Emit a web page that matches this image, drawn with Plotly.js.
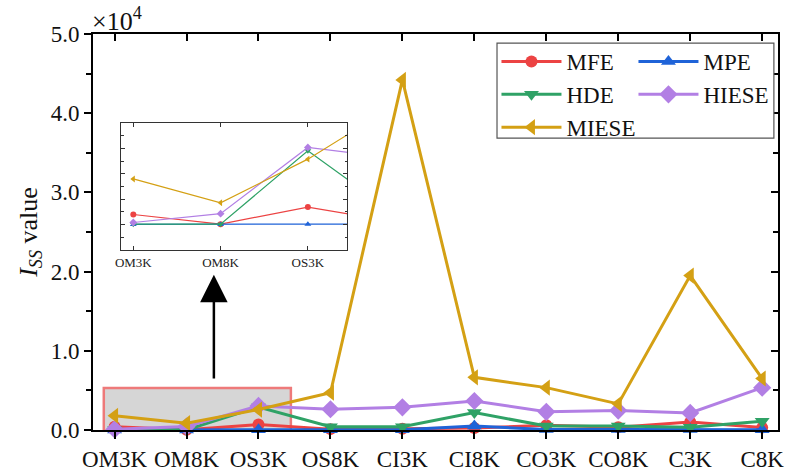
<!DOCTYPE html>
<html>
<head>
<meta charset="utf-8">
<script src="https://cdn.plot.ly/plotly-3.0.1.min.js"></script>
<style>html,body{margin:0;padding:0;background:#fff;}#chart{width:787px;height:471px;}</style>
</head>
<body>
<div id="chart"></div>
<script>
// ---- data ----
var categories = ["OM3K","OM8K","OS3K","OS8K","CI3K","CI8K","CO3K","CO8K","C3K","C8K"];
var seriesNames = ["MFE","MPE","HDE","HIESE","MIESE"];
var MFE   = [400, 20, 690, 110, 150, 250, 600, 350, 1000, 300];
var MPE   = [10, 10, 20, 30, 30, 500, 50, 50, 50, 30];
var HDE   = [20, 20, 2910, 420, 400, 2200, 500, 500, 350, 1100];
var HIESE = [85, 430, 3040, 2620, 2860, 3660, 2300, 2450, 2150, 5350];
var MIESE = [1800, 860, 2580, 4700, 44200, 6650, 5350, 3300, 19500, 6500];
var yTickValues = [0, 10000, 20000, 30000, 40000, 50000];
var insetTickValues = [-1000, 0, 1000, 2000, 3000, 4000];

// ---- styles ----
var seriesValues = [MFE, MPE, HDE, HIESE, MIESE];
var colors  = ["#ec4343", "#1f63d8", "#2fa266", "#b27fe4", "#d4a014"];
var symbols = ["circle", "triangle-up", "triangle-down", "diamond", "triangle-left"];
var msizes  = [12, 13, 13, 14, 14];
var legendOf = ["legend", "legend2", "legend", "legend2", "legend"];
var FONT = "Liberation Serif, Times New Roman, serif";

var traces = [];
seriesNames.forEach(function(name, i){
  traces.push({
    x: categories, y: seriesValues[i], name: name, type: "scatter", mode: "lines+markers",
    line: {color: colors[i], width: 3},
    marker: {color: colors[i], symbol: symbols[i], size: msizes[i]},
    cliponaxis: false, xaxis: "x", yaxis: "y", legend: legendOf[i]
  });
});
seriesNames.forEach(function(name, i){
  traces.push({
    x: categories, y: seriesValues[i], name: name, type: "scatter", mode: "lines+markers",
    line: {color: colors[i], width: 1.2},
    marker: {color: colors[i], symbol: symbols[i], size: 6},
    showlegend: false, xaxis: "x3", yaxis: "y3"
  });
});
// empty helper traces so the mirrored (inside-tick) frame axes are created
traces.push({x: [], y: [], type: "scatter", mode: "lines", showlegend: false, hoverinfo: "skip", xaxis: "x2", yaxis: "y"});
traces.push({x: [], y: [], type: "scatter", mode: "lines", showlegend: false, hoverinfo: "skip", xaxis: "x", yaxis: "y2"});

var idx = categories.map(function(c, i){ return i; });
var legendBase = {
  orientation: "v", y: 0.985, xanchor: "left", yanchor: "top",
  bgcolor: "rgba(0,0,0,0)", borderwidth: 0,
  font: {family: FONT, size: 23, color: "#111"},
  itemwidth: 60, tracegroupgap: 0
};

var layout = {
  width: 787, height: 471,
  margin: {l: 93, r: 9, t: 34, b: 41},
  paper_bgcolor: "#fff", plot_bgcolor: "rgba(0,0,0,0)",
  font: {family: FONT, size: 23, color: "#111"},
  showlegend: true,
  legend: Object.assign({}, legendBase, {x: 0.589}),
  legend2: Object.assign({}, legendBase, {x: 0.789}),
  xaxis: {
    type: "category", range: [-0.3, 9.22], showgrid: false, zeroline: false,
    showline: true, mirror: true, linecolor: "#000", linewidth: 2,
    ticks: "outside", ticklen: 7, tickwidth: 2, tickcolor: "#000",
    tickfont: {family: FONT, size: 23, color: "#111"}, anchor: "y"
  },
  xaxis2: {
    overlaying: "x", side: "top", anchor: "y", type: "linear", range: [-0.3, 9.22],
    tickvals: idx, showticklabels: false, showgrid: false, zeroline: false,
    showline: true, linecolor: "#000", linewidth: 2,
    ticks: "inside", ticklen: 7, tickwidth: 2, tickcolor: "#000"
  },
  yaxis: {
    range: [0, 50000], showgrid: false, zeroline: false,
    showline: true, mirror: true, linecolor: "#000", linewidth: 2,
    tickvals: yTickValues, ticktext: yTickValues.map(function(v){ return (v/10000).toFixed(1); }),
    ticks: "outside", ticklen: 7, tickwidth: 2, tickcolor: "#000",
    minor: {dtick: 5000, tick0: 0, ticks: "outside", ticklen: 5, tickwidth: 2, tickcolor: "#000"},
    tickfont: {family: FONT, size: 23, color: "#111"},
    title: {text: "<i>I</i><sub><i>SS</i></sub> value", font: {family: FONT, size: 26, color: "#111"}, standoff: 6},
    anchor: "x"
  },
  yaxis2: {
    overlaying: "y", side: "right", anchor: "x", range: [0, 50000],
    tickvals: yTickValues, showticklabels: false, showgrid: false, zeroline: false,
    showline: true, linecolor: "#000", linewidth: 2,
    ticks: "inside", ticklen: 7, tickwidth: 2, tickcolor: "#000",
    minor: {dtick: 5000, tick0: 0, ticks: "inside", ticklen: 5, tickwidth: 2, tickcolor: "#000"}
  },
  xaxis3: {
    domain: [0.041, 0.371], anchor: "y3", type: "category", range: [-0.14, 2.45],
    showgrid: false, zeroline: false, showline: true, mirror: "allticks",
    linecolor: "#333", linewidth: 1, ticks: "inside", ticklen: 4, tickwidth: 1, tickcolor: "#333",
    tickfont: {family: FONT, size: 13, color: "#222"}
  },
  yaxis3: {
    domain: [0.4545, 0.775], anchor: "x3", range: [-1000, 4000],
    tickvals: insetTickValues, showticklabels: false,
    showgrid: false, zeroline: false, showline: true, mirror: "allticks",
    linecolor: "#333", linewidth: 1, ticks: "inside", ticklen: 4, tickwidth: 1, tickcolor: "#333",
    minor: {dtick: 500, ticks: "inside", ticklen: 2.5, tickwidth: 1, tickcolor: "#333"}
  },
  shapes: [
    {type: "rect", xref: "x", yref: "y", x0: -0.15, x1: 2.45, y0: -100, y1: 5300,
     fillcolor: "rgba(200,200,200,0.75)", line: {color: "#ee7a7a", width: 2.5}, layer: "below"},
    {type: "rect", xref: "paper", yref: "paper", x0: 0.5898, x1: 0.994, y0: 0.737, y1: 0.977,
     fillcolor: "#fff", line: {color: "#555", width: 1.2}, layer: "above"}
  ],
  annotations: [
    {xref: "paper", yref: "paper", x: -0.004, y: 1.0, xanchor: "left", yanchor: "bottom",
     text: "×10<sup>4</sup>", showarrow: false, font: {family: FONT, size: 26, color: "#111"}, yshift: -4},
    {xref: "x", yref: "y", axref: "x", ayref: "y", x: 1.38, y: 19600, ax: 1.38, ay: 6300,
     text: "", showarrow: true, arrowhead: 2, arrowsize: 2.2, arrowwidth: 2.5, arrowcolor: "#000"}
  ]
};

Plotly.newPlot("chart", traces, layout, {displayModeBar: false, staticPlot: true});
</script>
</body>
</html>
